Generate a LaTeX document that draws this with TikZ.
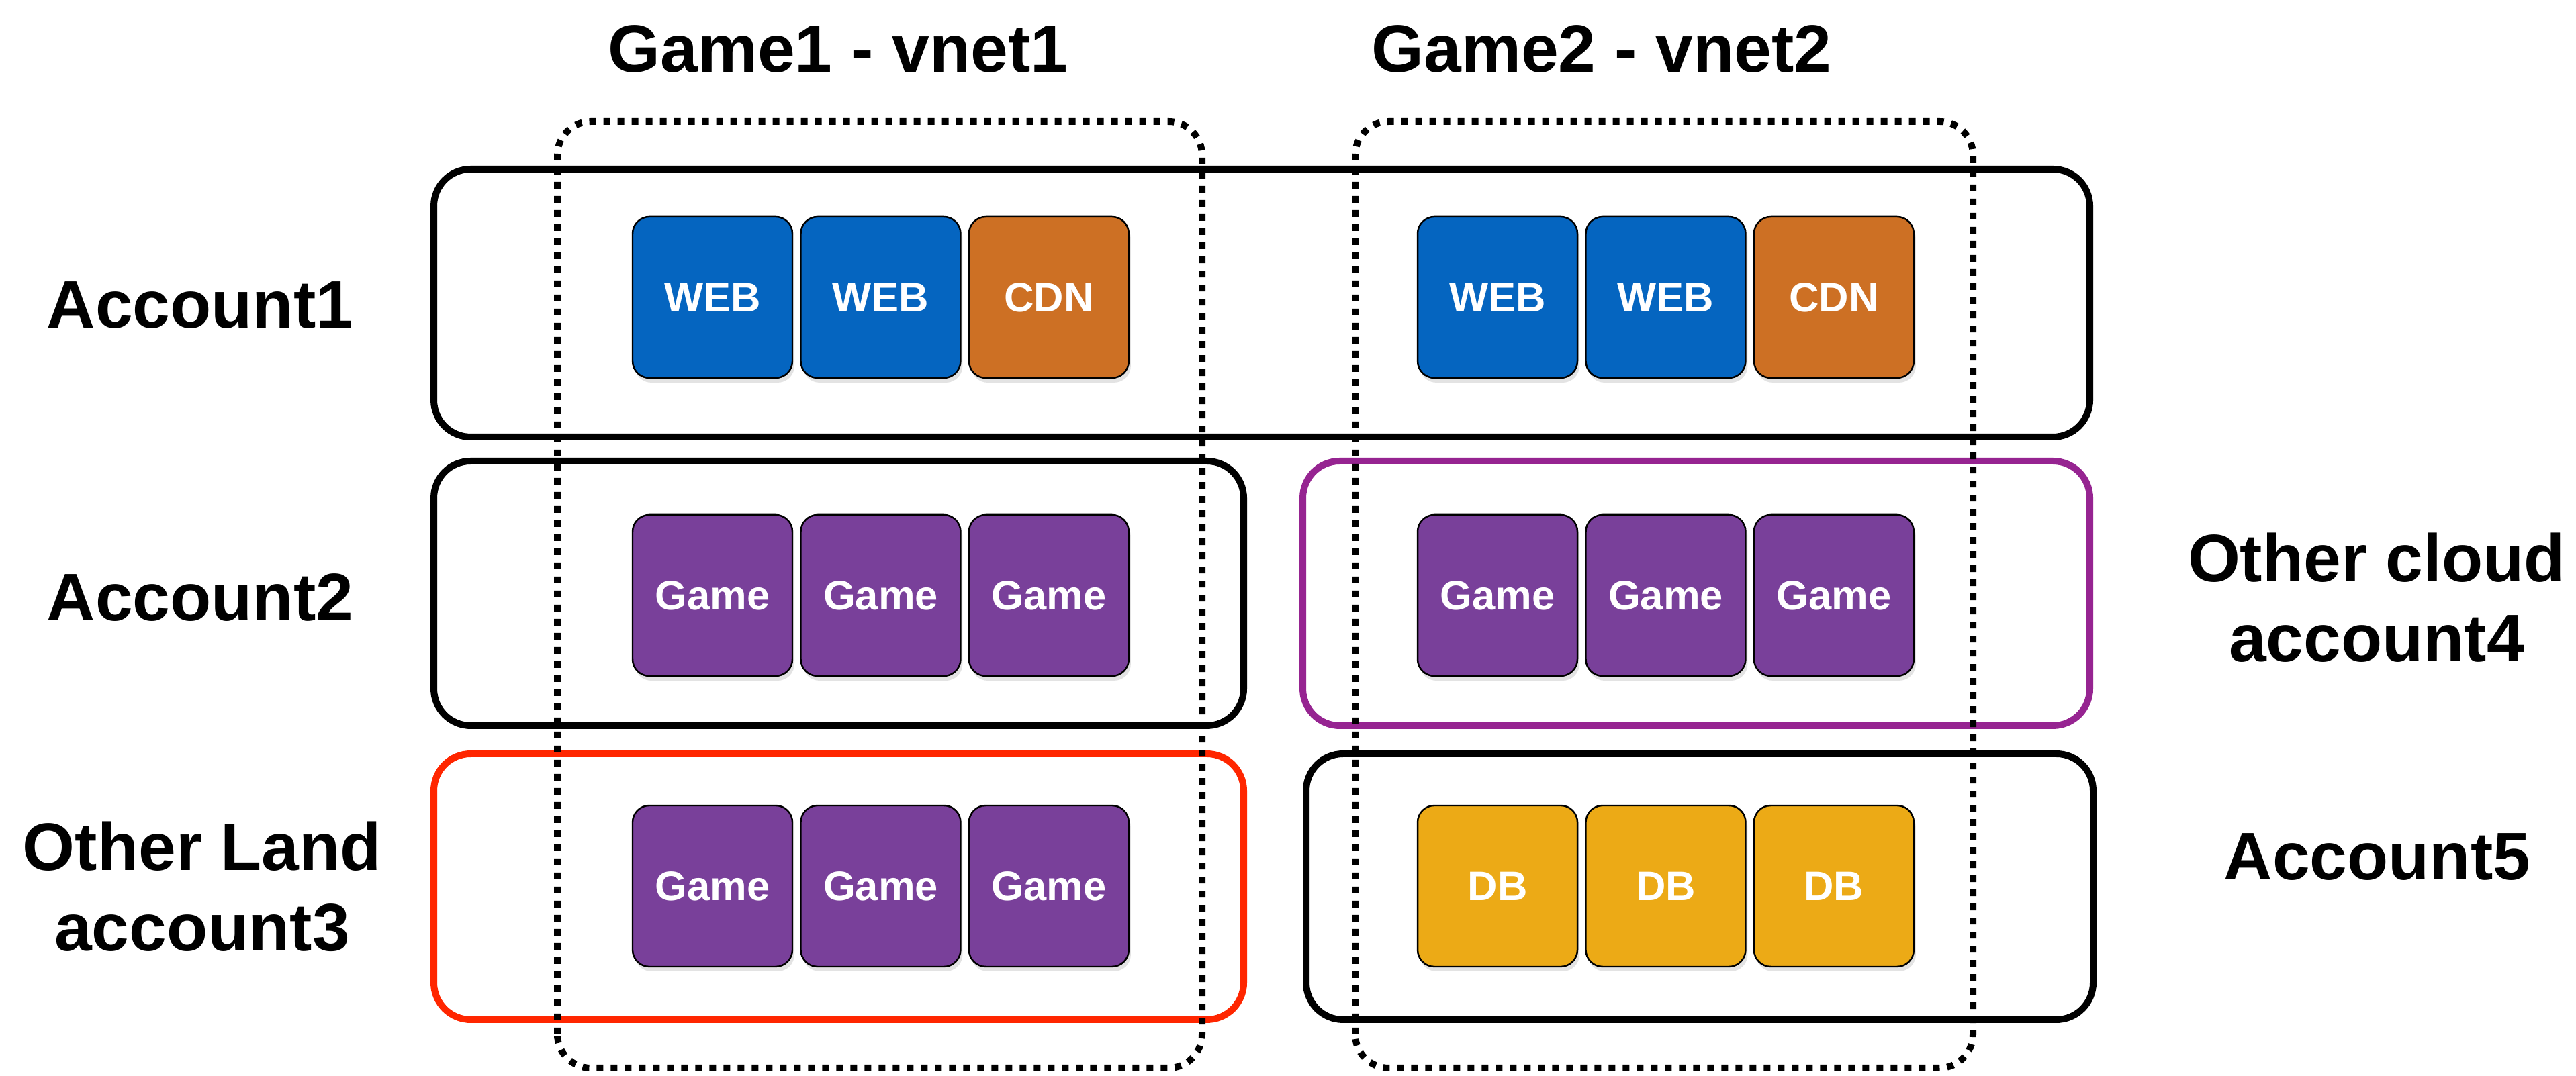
\documentclass[tikz,border=0pt]{standalone}
\usepackage{fontspec}
\setmainfont{Liberation Sans}
\usetikzlibrary{positioning,shadows}

\definecolor{webblue}{RGB}{5,101,192}
\definecolor{cdnorange}{RGB}{205,112,36}
\definecolor{gamepurple}{RGB}{121,64,154}
\definecolor{dbyellow}{RGB}{236,170,22}
\definecolor{cloudpurple}{RGB}{150,36,145}
\definecolor{landred}{RGB}{255,38,0}

\tikzset{
	svc/.style={draw=black, line width=0.7pt, rounded corners=0.25cm,
		minimum width=2.38cm, minimum height=2.4cm, inner sep=0pt, text=white,
		font=\fontsize{17.5}{20}\selectfont\bfseries,
		drop shadow={opacity=0.22, shadow xshift=0.03cm, shadow yshift=-0.07cm}},
	webbox/.style={svc, fill=webblue},
	cdnbox/.style={svc, fill=cdnorange},
	gamebox/.style={svc, fill=gamepurple},
	dbbox/.style={svc, fill=dbyellow},
	acct/.style={line width=0.1cm, rounded corners=0.55cm},
	vnet/.style={line width=0.1cm, dash pattern=on 0.1cm off 0.11cm, rounded corners=0.5cm},
	lbl/.style={font=\fontsize{28.5}{34}\selectfont\bfseries, align=center},
}

\begin{document}
\begin{tikzpicture}
	\useasboundingbox (0, 0) rectangle (38.36, 16.03);
	
	% account boxes
	\draw[acct] (6.46, 9.52) rectangle (31.12, 13.51);
	\draw[acct] (6.46, 5.22) rectangle (18.52, 9.16);
	\draw[acct, color=cloudpurple] (19.40, 5.22) rectangle (31.12, 9.16);
	\draw[acct, color=landred] (6.46, 0.84) rectangle (18.52, 4.80);
	\draw[acct] (19.45, 0.84) rectangle (31.17, 4.80);
	
	% row 1
	\node[webbox] (web1) at (10.61, 11.60) {WEB};
	\node[webbox, right=0.1cm of web1] (web2) {WEB};
	\node[cdnbox, right=0.1cm of web2] (cdn1) {CDN};
	\node[webbox] (web3) at (22.30, 11.60) {WEB};
	\node[webbox, right=0.1cm of web3] (web4) {WEB};
	\node[cdnbox, right=0.1cm of web4] (cdn2) {CDN};
	
	% row 2
	\node[gamebox] (game1) at (10.61, 7.16) {Game};
	\node[gamebox, right=0.1cm of game1] (game2) {Game};
	\node[gamebox, right=0.1cm of game2] (game3) {Game};
	\node[gamebox] (game4) at (22.30, 7.16) {Game};
	\node[gamebox, right=0.1cm of game4] (game5) {Game};
	\node[gamebox, right=0.1cm of game5] (game6) {Game};
	
	% row 3
	\node[gamebox] (game7) at (10.61, 2.83) {Game};
	\node[gamebox, right=0.1cm of game7] (game8) {Game};
	\node[gamebox, right=0.1cm of game8] (game9) {Game};
	\node[dbbox] (db1) at (22.30, 2.83) {DB};
	\node[dbbox, right=0.1cm of db1] (db2) {DB};
	\node[dbbox, right=0.1cm of db2] (db3) {DB};
	
	% vnets
	\draw[vnet] (8.30, 0.12) rectangle (17.90, 14.22);
	\draw[vnet] (20.18, 0.12) rectangle (29.38, 14.22);
	
	% labels
	\node[lbl] (vnet1) at (12.48, 15.30) {Game1 - vnet1};
	\node[lbl] (vnet2) at (23.85, 15.30) {Game2 - vnet2};
	\node[lbl] (acc1) at (2.98, 11.48) {Account1};
	\node[lbl] (acc2) at (2.98, 7.13) {Account2};
	\node[lbl] (acc3) at (3.01, 2.82) {Other Land\\account3};
	\node[lbl] (acc4) at (35.39, 7.13) {Other cloud\\account4};
	\node[lbl] (acc5) at (35.40, 3.26) {Account5};
\end{tikzpicture}
\end{document}
